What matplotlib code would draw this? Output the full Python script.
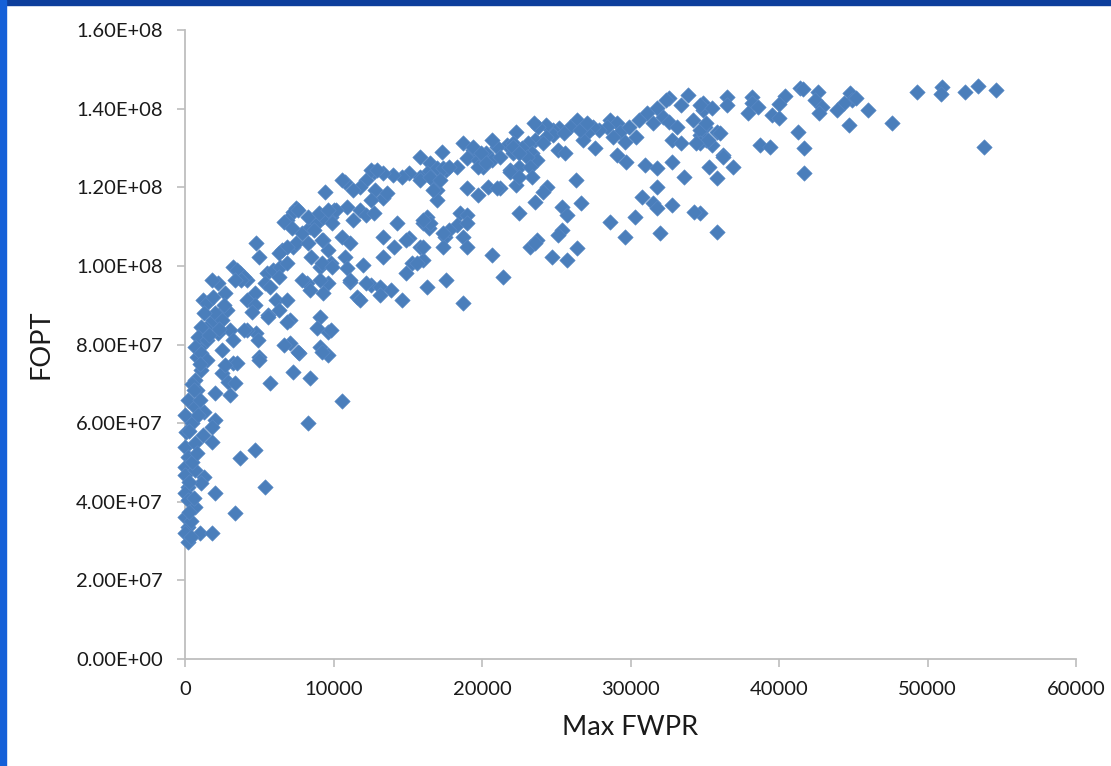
import numpy as np
import matplotlib
matplotlib.use("Agg")
import matplotlib.pyplot as plt
from matplotlib.patches import Rectangle
from matplotlib.ticker import FuncFormatter, MultipleLocator

plt.rcParams['font.family'] = ['Lato', 'DejaVu Sans']

# Max FWPR (thousands) and FOPT (millions)
fwpr_k = [
    49.3, 51.0, 50.9, 52.5, 53.4, 54.6, 53.8, 47.6, 46.0, 44.8, 44.9, 45.2, 44.4, 44.7, 43.9,
    42.6, 42.4, 42.9, 42.7, 41.4, 41.6, 41.3, 41.7, 41.7, 40.4, 40.0, 39.5, 40.0, 38.7, 39.4,
    38.2, 38.2, 37.9, 38.6, 36.5, 36.5, 35.8, 35.5, 36.2, 35.3, 36.9, 35.8, 35.8, 34.7, 34.9,
    34.9, 35.0, 35.1, 34.7,
    32.6, 33.9, 33.4, 34.7, 35.5, 31.8, 31.1, 30.6, 32.2, 31.5, 32.6, 33.1, 34.2, 34.7, 35.1,
    34.7, 35.2, 32.8, 33.4, 28.6, 29.1, 28.4, 29.3, 28.8, 29.6, 27.9, 30.4, 27.5, 27.1, 27.6,
    26.8, 26.4, 25.9, 26.6, 25.2, 24.8, 24.3, 23.8, 23.5, 24.8, 24.3, 23.6, 23.1, 24.1, 25.5,
    22.3, 21.7, 22.1, 22.7, 23.4, 23.7, 23.0, 22.5, 23.2, 23.4, 21.9, 22.3, 25.1, 25.6, 29.1,
    29.7, 31.0, 31.8, 32.8, 33.6, 31.8, 30.8, 31.5, 31.8, 32.8, 34.3, 30.3, 28.6, 29.6, 32.0,
    26.3, 24.4, 24.1, 23.6, 22.5, 26.7, 25.4, 25.7, 25.4, 25.1, 23.7, 23.2, 24.7, 25.7, 26.4,
    21.4, 21.2, 32.4, 29.9, 34.4, 36.0, 36.2, 27.1,
    18.7, 19.4, 19.0, 19.7, 20.3, 21.0, 20.7, 20.1, 22.1, 21.9, 22.5, 17.3, 15.8, 16.5, 17.0,
    17.6, 18.3, 16.3, 16.7, 17.0, 17.0, 15.8, 15.1, 14.6, 14.0, 19.0, 19.7, 20.4, 21.0, 18.5,
    19.0, 18.3, 18.7, 19.0, 17.5, 17.4, 16.3, 16.0, 16.4, 14.3, 13.3, 12.7, 12.2, 11.8, 11.3,
    12.8, 13.3, 13.6, 12.5, 10.8, 9.4, 11.8, 12.2, 12.7, 10.9, 11.3, 10.0, 9.8, 15.1, 14.1,
    13.3, 13.3, 10.6, 11.1, 9.6, 9.8, 9.3, 10.8, 10.9, 12.0, 11.1, 12.5, 13.1, 13.9, 14.6,
    11.6, 13.1, 16.3, 17.6, 18.7, 20.7, 15.8, 15.3, 16.0, 9.1, 9.6, 9.1, 9.6,
    16.0, 16.5, 17.8, 19.0, 23.6, 15.8, 16.5, 17.4, 17.8, 17.2, 16.7, 19.4, 19.9, 19.7, 20.3,
    20.7, 21.2, 22.1, 22.5,
    10.6, 12.5, 12.9, 16.0, 17.4, 14.9, 15.6, 14.9, 11.1, 11.8, 12.2, 8.2, 8.4, 9.1, 9.3,
    7.1, 8.9, 9.8, 9.1, 9.6, 7.1, 7.7, 4.8, 5.0, 4.2, 5.6, 1.0, 0.8, 1.2, 1.5,
    1.9, 2.4, 2.8, 2.2, 1.8, 1.2, 3.0, 3.2, 3.2, 3.7, 4.2, 4.8, 5.0, 5.5, 5.9,
    6.4, 6.9, 7.3, 7.5, 7.9, 8.4, 8.9, 9.3, 9.8, 10.2, 7.5, 7.3, 6.9,
    7.6, 8.3, 9.0, 9.6, 9.9, 6.7, 7.2, 8.7, 9.2, 8.3, 8.5, 9.2, 9.9, 6.5, 6.9,
    6.3, 3.5, 4.0, 3.8, 3.4, 6.3, 5.4, 5.7, 4.7, 4.2, 2.7, 1.5, 2.0, 2.5, 1.1,
    0.9, 1.5, 0.7, 1.1, 1.5, 2.5, 3.2, 2.2, 4.7, 4.5, 5.6, 6.1, 6.3, 6.9, 6.9,
    4.0, 4.9, 6.7, 7.6, 9.2, 7.9,
    1.1, 0.7, 0.8, 2.5, 2.9, 3.4, 2.0, 3.0, 3.5, 2.7, 5.0, 7.3, 8.4, 5.7, 8.3,
    0.2, 0.7, 1.3, 0.0, 0.5, 0.1, 2.0, 1.8, 1.8, 0.0, 0.2, 0.0, 0.0, 0.7, 1.3,
    1.1, 2.0, 0.2, 0.0, 0.2, 0.7, 3.7, 4.7, 5.4, 3.4, 0.0, 0.2, 0.0, 0.2, 1.0,
    1.8, 10.6,
    0.4, 0.6, 0.3, 0.5, 0.7, 0.3, 0.9, 1.0, 0.5, 0.3, 0.8, 0.4, 1.2, 1.6, 2.3,
    1.9, 2.6, 1.3, 0.6, 1.0,
]
fopt_m = [
    144.2, 145.5, 143.7, 144.2, 145.8, 144.8, 130.3, 136.4, 139.7, 144.0, 142.2, 142.7, 141.4, 135.8, 139.7,
    144.2, 142.2, 140.4, 138.9, 145.3, 145.0, 134.1, 130.0, 123.6, 143.1, 141.3, 138.4, 137.6, 130.8, 130.3,
    143.0, 141.5, 138.9, 140.4, 143.0, 141.0, 134.1, 130.8, 128.2, 125.2, 125.2, 122.4, 108.6, 113.5, 141.4,
    139.7, 135.3, 132.0, 133.3,
    142.7, 143.5, 141.0, 141.0, 140.2, 140.2, 138.9, 137.1, 137.9, 136.4, 136.6, 135.3, 137.1, 134.6, 136.4,
    131.3, 132.0, 132.0, 131.3, 137.1, 136.4, 135.3, 134.1, 132.8, 131.5, 134.6, 132.8, 135.3, 133.8, 130.0,
    132.0, 137.1, 135.3, 134.6, 135.1, 134.6, 135.9, 135.3, 136.4, 133.3, 132.8, 132.0, 131.3, 131.3, 133.8,
    134.1, 130.8, 131.3, 130.0, 128.7, 127.0, 127.7, 125.2, 125.2, 122.6, 124.4, 120.6, 129.5, 128.7, 128.2,
    126.4, 125.7, 124.9, 126.4, 122.6, 120.1, 117.5, 116.0, 114.7, 115.5, 113.7, 112.4, 111.2, 107.4, 108.4,
    121.9, 120.1, 118.8, 116.3, 113.5, 116.0, 115.0, 113.0, 109.1, 107.9, 106.6, 104.8, 102.3, 101.5, 104.6,
    97.2, 119.8, 142.2, 135.3, 131.3, 133.8, 127.7, 136.4,
    131.3, 129.5, 127.5, 127.0, 128.7, 130.3, 127.0, 125.2, 128.7, 123.9, 122.6, 129.0, 127.7, 126.2, 124.9,
    124.4, 125.2, 123.6, 121.9, 119.3, 116.8, 122.6, 123.6, 122.6, 123.1, 119.8, 118.0, 120.1, 119.8, 113.5,
    113.0, 110.4, 107.4, 104.8, 107.4, 104.8, 112.4, 110.9, 109.6, 110.9, 123.6, 123.9, 121.9, 120.1, 119.3,
    119.3, 117.3, 118.6, 116.8, 121.4, 118.8, 114.2, 113.0, 113.5, 115.0, 111.7, 114.2, 112.4, 107.1, 104.8,
    107.4, 102.3, 107.4, 105.8, 104.0, 100.7, 106.6, 102.3, 99.5, 100.2, 95.9, 95.1, 94.6, 93.9, 91.3,
    92.1, 92.6, 94.6, 96.4, 90.6, 102.8, 104.8, 100.7, 101.5, 99.7, 95.7, 87.0, 83.2,
    104.8, 110.9, 109.1, 110.9, 105.8, 121.9, 122.6, 124.9, 125.2, 121.9, 119.3, 130.3, 128.7, 125.2, 126.2,
    132.0, 127.7, 130.3, 128.7,
    121.9, 124.4, 124.4, 111.7, 108.4, 106.6, 100.7, 98.2, 96.4, 91.3, 95.7, 95.7, 93.9, 96.4, 93.1,
    86.2, 84.2, 83.7, 79.4, 77.3, 80.4, 77.8, 82.9, 76.8, 83.7, 87.5, 79.4, 76.8, 81.9, 84.5,
    86.2, 88.0, 88.8, 95.7, 96.4, 91.3, 83.7, 81.2, 99.7, 98.2, 96.4, 105.8, 102.3, 98.2, 99.0,
    99.7, 100.7, 104.8, 105.8, 108.4, 109.9, 110.9, 112.4, 113.5, 114.2, 114.7, 113.7, 111.7,
    114.2, 112.4, 113.5, 114.2, 110.9, 111.2, 109.6, 109.1, 106.6, 105.8, 102.3, 100.7, 99.7, 104.0, 104.8,
    103.3, 99.0, 97.2, 96.4, 96.4, 97.2, 95.7, 94.6, 93.1, 91.3, 93.1, 90.6, 88.0, 86.2, 84.5,
    81.9, 81.2, 79.4, 77.8, 76.1, 78.6, 75.3, 82.9, 90.1, 88.3, 87.0, 91.3, 88.8, 91.3, 85.7,
    83.7, 81.2, 79.9, 78.1, 78.1, 96.4,
    73.5, 71.0, 68.4, 72.8, 70.5, 70.2, 67.7, 67.2, 75.3, 74.8, 76.1, 73.0, 71.5, 70.2, 60.0,
    65.9, 64.1, 62.8, 62.1, 60.0, 57.7, 60.8, 59.0, 55.2, 53.9, 51.4, 48.8, 46.8, 48.1, 46.3,
    44.8, 42.2, 43.8, 42.2, 40.5, 38.7, 51.1, 53.2, 43.8, 37.1, 36.1, 33.6, 32.1, 29.8, 32.1,
    32.1, 65.6,
    35.0, 41.0, 45.0, 50.0, 55.0, 58.0, 62.0, 66.0, 70.0, 37.5, 52.5, 31.0, 57.0, 82.5, 84.0,
    92.0, 90.0, 88.0, 68.5, 75.0,
]

x = np.array(fwpr_k) * 1000
y = np.array(fopt_m) * 1e6

fig = plt.figure(figsize=(11.11, 7.66), dpi=100)
ax = fig.add_axes([185 / 1111, 107 / 766, 891 / 1111, 629 / 766])

ax.scatter(x, y, marker='D', s=62, color='#4A7EBB', edgecolors='#5A8AC6',
           linewidths=0.4, zorder=3, clip_on=False)

ax.set_xlim(0, 60000)
ax.set_ylim(0, 1.6e8)
ax.xaxis.set_major_locator(MultipleLocator(10000))
ax.yaxis.set_major_locator(MultipleLocator(2e7))
ax.yaxis.set_major_formatter(FuncFormatter(lambda v, p: f"{v:.2E}"))

for s in ['top', 'right']:
    ax.spines[s].set_visible(False)
for s in ['left', 'bottom']:
    ax.spines[s].set_color('#BEBEBE')
    ax.spines[s].set_linewidth(1.3)
ax.tick_params(axis='both', colors='#BEBEBE', labelcolor='#1a1a1a',
               labelsize=14.5, length=6, width=1.2, direction='out')
ax.tick_params(axis='x', pad=10)
ax.tick_params(axis='y', pad=10)

ax.set_xlabel('Max FWPR', fontsize=19.5, color='#1a1a1a', labelpad=12)
ax.set_ylabel('FOPT', fontsize=19.5, color='#1a1a1a', labelpad=16)

# blue window frame
fig.patches.append(Rectangle((0, 1 - 5 / 766), 1, 5 / 766, transform=fig.transFigure,
                             color='#0D3E9C', zorder=10))
fig.patches.append(Rectangle((0, 0), 6 / 1111, 1, transform=fig.transFigure,
                             color='#1560D8', zorder=10))

fig.savefig('out.png', dpi=100)
